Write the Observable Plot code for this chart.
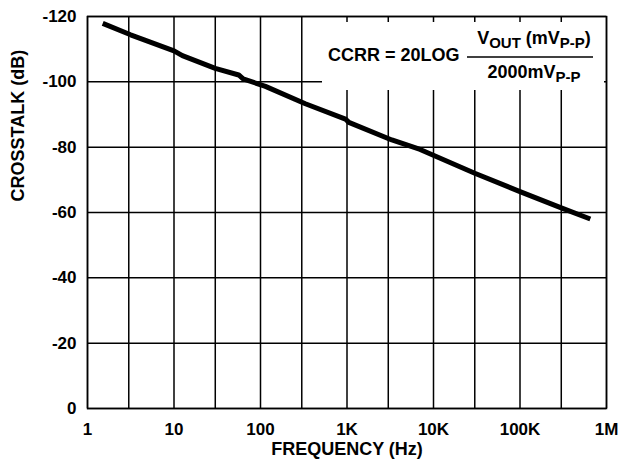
<!DOCTYPE html>
<html><head><meta charset="utf-8">
<script src="https://cdn.jsdelivr.net/npm/d3@7"></script>
<script src="https://cdn.jsdelivr.net/npm/@observablehq/plot@0.6"></script>
<style>
body{margin:0;background:#fff}
svg{font-family:"Liberation Sans",Arial,Helvetica,sans-serif;font-weight:bold}
</style>
</head><body><div id="chart"></div>
<script>
const freqHz = [1.5, 3.15, 10, 12.5, 30, 56, 63, 114, 330, 960, 1050, 3300, 7000, 30000, 100000, 300000, 650000];
const crosstalkDb = [-117.9, -114.4, -109.5, -108.0, -104.1, -102.1, -100.9, -98.6, -93.3, -88.6, -87.6, -82.2, -79.3, -72.0, -66.4, -61.4, -58.0];
const xGridValues = [1, 3, 10, 30, 100, 300, 1e3, 3e3, 1e4, 3e4, 1e5, 3e5, 1e6];
const xTickValues = [1, 10, 100, 1e3, 1e4, 1e5, 1e6];
const xTickLabels = ["1", "10", "100", "1K", "10K", "100K", "1M"];
const yTickValues = [-120, -100, -80, -60, -40, -20, 0];
const yTickLabels = ["-120", "-100", "-80", "-60", "-40", "-20", "0"];
const xTitle = "FREQUENCY (Hz)";
const yTitle = "CROSSTALK (dB)";

const data = freqHz.map((f, i) => ({f, db: crosstalkDb[i]}));

const W = 618, H = 468, mL = 87, mR = 12, mT = 16, mB = 60;

const plot = Plot.plot({
  width: W, height: H,
  marginLeft: mL, marginRight: mR, marginTop: mT, marginBottom: mB,
  style: {background: "#fff", color: "#000", fontFamily: "'Liberation Sans', Arial, sans-serif"},
  x: {type: "log", domain: [1, 1e6]},
  y: {type: "linear", domain: [0, -120]},
  marks: [
    Plot.ruleX(xGridValues, {stroke: "#000", strokeWidth: 1.5}),
    Plot.ruleY(yTickValues, {stroke: "#000", strokeWidth: 1.5}),
    Plot.frame({stroke: "#000", strokeWidth: 1.5}),
    Plot.axisX({ticks: xTickValues, tickFormat: d => xTickLabels[xTickValues.indexOf(d)], tickSize: 0, tickPadding: 14, fontSize: 17, fontWeight: "bold", label: null}),
    Plot.axisY({ticks: yTickValues, tickFormat: d => yTickLabels[yTickValues.indexOf(d)], tickSize: 0, tickPadding: 11, fontSize: 17, fontWeight: "bold", label: null}),
    Plot.text([xTitle], {text: d => d, frameAnchor: "bottom", dy: 46, fontSize: 18, fontWeight: "bold"}),
    Plot.text([yTitle], {text: d => d, frameAnchor: "left", dx: -69, dy: -11, rotate: -90, fontSize: 18, fontWeight: "bold"}),
    Plot.line(data, {x: "f", y: "db", stroke: "#000", strokeWidth: 5, strokeLinejoin: "round", strokeLinecap: "butt"})
  ]
});

// formula annotation box
const svg = d3.select(plot);
const g = svg.append("g").attr("font-weight", "bold").attr("fill", "#000").attr("text-anchor", "start");
g.append("rect").attr("x", 322).attr("y", 22).attr("width", 282).attr("height", 68).attr("fill", "#fff").attr("stroke", "none");
g.append("text").attr("x", 328).attr("y", 61).attr("font-size", 18).attr("text-anchor", "start").text("CCRR = 20LOG");
g.append("line").attr("x1", 467).attr("x2", 593).attr("y1", 57).attr("y2", 57).attr("stroke", "#000").attr("stroke-width", 1.5);
const num = g.append("text").attr("x", 534).attr("y", 44).attr("font-size", 18).attr("text-anchor", "middle");
num.append("tspan").text("V");
num.append("tspan").attr("font-size", 15).attr("dy", 4).text("OUT");
num.append("tspan").attr("dy", -4).text(" (mV");
num.append("tspan").attr("font-size", 15).attr("dy", 4).text("P-P");
num.append("tspan").attr("dy", -4).text(")");
const den = g.append("text").attr("x", 534).attr("y", 78).attr("font-size", 18).attr("text-anchor", "middle");
den.append("tspan").text("2000mV");
den.append("tspan").attr("font-size", 15).attr("dy", 4).text("P-P");

document.getElementById("chart").appendChild(plot);
</script>
</body></html>
